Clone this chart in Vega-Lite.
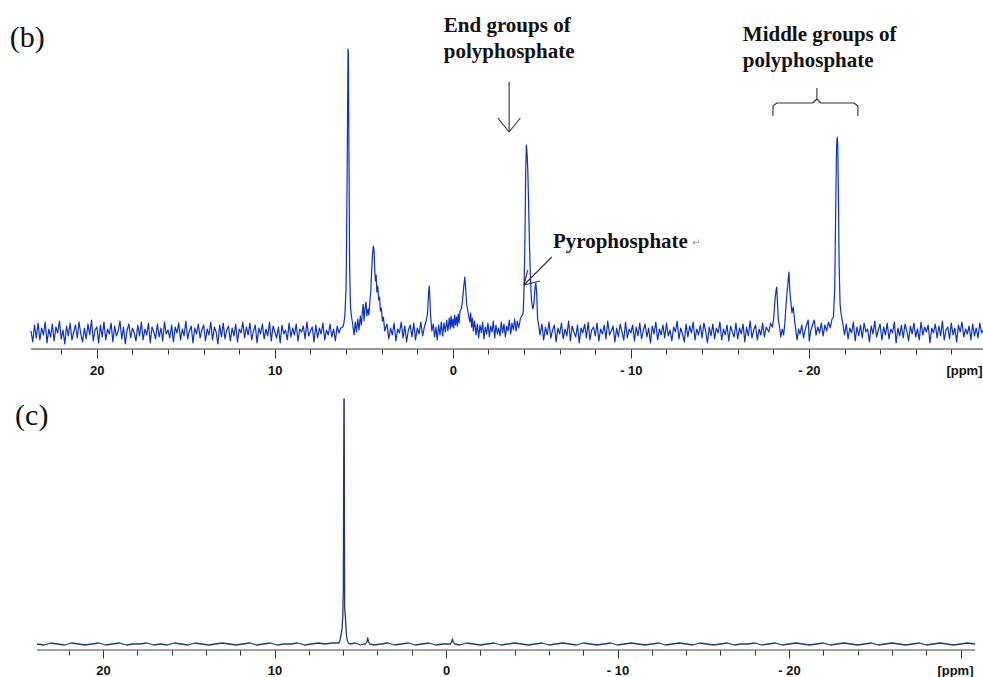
{
  "$schema": "https://vega.github.io/schema/vega-lite/v6.json",
  "padding": 0,
  "background": "white",
  "spacing": 43,
  "bounds": "flush",
  "config": {"view": {"stroke": null}},
  "datasets": {
    "specB": [
      {"ppm":23.7,"int":18},{"ppm":23.6,"int":7},{"ppm":23.5,"int":24},{"ppm":23.4,"int":11},{"ppm":23.3,"int":26},{"ppm":23.2,"int":9},{"ppm":23.1,"int":21},{"ppm":23.0,"int":14},{"ppm":22.9,"int":27},{"ppm":22.8,"int":6},
      {"ppm":22.7,"int":20},{"ppm":22.6,"int":12},{"ppm":22.5,"int":25},{"ppm":22.4,"int":8},{"ppm":22.3,"int":22},{"ppm":22.2,"int":16},{"ppm":22.1,"int":28},{"ppm":22.0,"int":10},{"ppm":21.9,"int":19},{"ppm":21.8,"int":5},
      {"ppm":21.7,"int":23},{"ppm":21.6,"int":13},{"ppm":21.5,"int":26},{"ppm":21.4,"int":9},{"ppm":21.3,"int":17},{"ppm":21.2,"int":24},{"ppm":21.1,"int":11},{"ppm":21.0,"int":27},{"ppm":20.9,"int":15},{"ppm":20.8,"int":7},
      {"ppm":20.7,"int":21},{"ppm":20.6,"int":10},{"ppm":20.5,"int":25},{"ppm":20.4,"int":14},{"ppm":20.3,"int":29},{"ppm":20.2,"int":8},{"ppm":20.1,"int":19},{"ppm":20.0,"int":22},{"ppm":19.9,"int":6},{"ppm":19.8,"int":24},
      {"ppm":19.7,"int":12},{"ppm":19.6,"int":27},{"ppm":19.5,"int":9},{"ppm":19.4,"int":20},{"ppm":19.3,"int":15},{"ppm":19.2,"int":26},{"ppm":19.1,"int":7},{"ppm":19.0,"int":23},{"ppm":18.9,"int":13},{"ppm":18.8,"int":18},
      {"ppm":18.7,"int":28},{"ppm":18.6,"int":10},{"ppm":18.5,"int":22},{"ppm":18.4,"int":5},{"ppm":18.3,"int":19},{"ppm":18.2,"int":25},{"ppm":18.1,"int":11},{"ppm":18.0,"int":21},{"ppm":17.9,"int":16},{"ppm":17.8,"int":8},
      {"ppm":17.7,"int":24},{"ppm":17.6,"int":13},{"ppm":17.5,"int":27},{"ppm":17.4,"int":9},{"ppm":17.3,"int":20},{"ppm":17.2,"int":14},{"ppm":17.1,"int":26},{"ppm":17.0,"int":6},{"ppm":16.9,"int":22},{"ppm":16.8,"int":17},
      {"ppm":16.7,"int":10},{"ppm":16.6,"int":25},{"ppm":16.5,"int":12},{"ppm":16.4,"int":21},{"ppm":16.3,"int":8},{"ppm":16.2,"int":27},{"ppm":16.1,"int":15},{"ppm":16.0,"int":19},{"ppm":15.9,"int":11},{"ppm":15.8,"int":24},
      {"ppm":15.7,"int":7},{"ppm":15.6,"int":22},{"ppm":15.5,"int":16},{"ppm":15.4,"int":26},{"ppm":15.3,"int":9},{"ppm":15.2,"int":20},{"ppm":15.1,"int":13},{"ppm":15.0,"int":28},{"ppm":14.9,"int":10},{"ppm":14.8,"int":18},
      {"ppm":14.7,"int":23},{"ppm":14.6,"int":6},{"ppm":14.5,"int":21},{"ppm":14.4,"int":15},{"ppm":14.3,"int":25},{"ppm":14.2,"int":11},{"ppm":14.1,"int":19},{"ppm":14.0,"int":24},{"ppm":13.9,"int":8},{"ppm":13.8,"int":20},
      {"ppm":13.7,"int":14},{"ppm":13.6,"int":27},{"ppm":13.5,"int":9},{"ppm":13.4,"int":22},{"ppm":13.3,"int":17},{"ppm":13.2,"int":5},{"ppm":13.1,"int":24},{"ppm":13.0,"int":12},{"ppm":12.9,"int":26},{"ppm":12.8,"int":10},
      {"ppm":12.7,"int":19},{"ppm":12.6,"int":23},{"ppm":12.5,"int":8},{"ppm":12.4,"int":21},{"ppm":12.3,"int":13},{"ppm":12.2,"int":25},{"ppm":12.1,"int":7},{"ppm":12.0,"int":20},{"ppm":11.9,"int":16},{"ppm":11.8,"int":27},
      {"ppm":11.7,"int":11},{"ppm":11.6,"int":22},{"ppm":11.5,"int":14},{"ppm":11.4,"int":26},{"ppm":11.3,"int":9},{"ppm":11.2,"int":18},{"ppm":11.1,"int":24},{"ppm":11.0,"int":6},{"ppm":10.9,"int":21},{"ppm":10.8,"int":15},
      {"ppm":10.7,"int":25},{"ppm":10.6,"int":10},{"ppm":10.5,"int":20},{"ppm":10.4,"int":13},{"ppm":10.3,"int":27},{"ppm":10.2,"int":8},{"ppm":10.1,"int":23},{"ppm":10.0,"int":17},{"ppm":9.9,"int":11},{"ppm":9.8,"int":22},
      {"ppm":9.7,"int":6},{"ppm":9.6,"int":24},{"ppm":9.5,"int":15},{"ppm":9.4,"int":19},{"ppm":9.3,"int":9},{"ppm":9.2,"int":26},{"ppm":9.1,"int":12},{"ppm":9.0,"int":21},{"ppm":8.9,"int":14},{"ppm":8.8,"int":25},
      {"ppm":8.7,"int":8},{"ppm":8.6,"int":20},{"ppm":8.5,"int":17},{"ppm":8.4,"int":23},{"ppm":8.3,"int":10},{"ppm":8.2,"int":27},{"ppm":8.1,"int":13},{"ppm":8.0,"int":18},{"ppm":7.9,"int":22},{"ppm":7.8,"int":7},
      {"ppm":7.7,"int":24},{"ppm":7.6,"int":11},{"ppm":7.5,"int":21},{"ppm":7.4,"int":15},{"ppm":7.3,"int":26},{"ppm":7.2,"int":9},{"ppm":7.1,"int":19},{"ppm":7.0,"int":14},{"ppm":6.9,"int":25},{"ppm":6.8,"int":12},
      {"ppm":6.7,"int":20},{"ppm":6.6,"int":8},{"ppm":6.5,"int":23},{"ppm":6.4,"int":16},{"ppm":6.3,"int":21},
      {"ppm":6.18,"int":22},{"ppm":6.12,"int":26},{"ppm":6.07,"int":33},{"ppm":6.0,"int":60},{"ppm":5.97,"int":107},{"ppm":5.93,"int":200},{"ppm":5.89,"int":300},{"ppm":5.87,"int":296},{"ppm":5.84,"int":200},{"ppm":5.82,"int":147},{"ppm":5.8,"int":82},{"ppm":5.75,"int":42},{"ppm":5.69,"int":32},{"ppm":5.62,"int":24},{"ppm":5.55,"int":14},{"ppm":5.48,"int":27},{"ppm":5.41,"int":17},{"ppm":5.34,"int":30},{"ppm":5.27,"int":19},{"ppm":5.2,"int":33},{"ppm":5.14,"int":24},{"ppm":5.08,"int":38},{"ppm":5.04,"int":45},{"ppm":4.99,"int":28},{"ppm":4.94,"int":40},{"ppm":4.88,"int":47},{"ppm":4.83,"int":33},{"ppm":4.77,"int":40},{"ppm":4.72,"int":34},{"ppm":4.66,"int":48},{"ppm":4.61,"int":58},{"ppm":4.56,"int":80},{"ppm":4.51,"int":95},{"ppm":4.47,"int":103},{"ppm":4.43,"int":99},{"ppm":4.39,"int":80},{"ppm":4.35,"int":68},{"ppm":4.31,"int":74},{"ppm":4.27,"int":57},{"ppm":4.22,"int":63},{"ppm":4.17,"int":49},{"ppm":4.12,"int":52},{"ppm":4.07,"int":38},{"ppm":4.02,"int":41},{"ppm":3.96,"int":28},{"ppm":3.9,"int":32},{"ppm":3.83,"int":18},
      {"ppm":3.7,"int":25},{"ppm":3.6,"int":10},{"ppm":3.5,"int":21},{"ppm":3.4,"int":14},{"ppm":3.3,"int":26},{"ppm":3.2,"int":8},{"ppm":3.1,"int":20},{"ppm":3.0,"int":16},{"ppm":2.9,"int":27},{"ppm":2.8,"int":11},{"ppm":2.7,"int":23},{"ppm":2.6,"int":7},{"ppm":2.5,"int":19},{"ppm":2.4,"int":24},{"ppm":2.3,"int":12},{"ppm":2.2,"int":26},{"ppm":2.1,"int":9},{"ppm":2.0,"int":21},{"ppm":1.9,"int":15},{"ppm":1.8,"int":27},{"ppm":1.7,"int":13},{"ppm":1.6,"int":22},
      {"ppm":1.5,"int":28},{"ppm":1.42,"int":36},{"ppm":1.37,"int":55},{"ppm":1.33,"int":63},{"ppm":1.29,"int":50},{"ppm":1.25,"int":33},{"ppm":1.18,"int":18},{"ppm":1.1,"int":25},{"ppm":1.03,"int":12},{"ppm":0.95,"int":22},{"ppm":0.88,"int":9},{"ppm":0.8,"int":24},{"ppm":0.72,"int":14},{"ppm":0.65,"int":27},{"ppm":0.57,"int":13},{"ppm":0.5,"int":26},{"ppm":0.42,"int":17},{"ppm":0.35,"int":29},{"ppm":0.28,"int":18},{"ppm":0.2,"int":31},{"ppm":0.15,"int":20},{"ppm":0.1,"int":33},{"ppm":0.05,"int":22},{"ppm":0.0,"int":30},{"ppm":-0.05,"int":21},{"ppm":-0.1,"int":34},{"ppm":-0.15,"int":24},{"ppm":-0.2,"int":32},{"ppm":-0.25,"int":23},{"ppm":-0.3,"int":35},{"ppm":-0.35,"int":26},{"ppm":-0.4,"int":38},
      {"ppm":-0.48,"int":40},{"ppm":-0.55,"int":50},{"ppm":-0.62,"int":64},{"ppm":-0.67,"int":72},{"ppm":-0.72,"int":60},{"ppm":-0.78,"int":44},{"ppm":-0.86,"int":36},
      {"ppm":-0.95,"int":27},{"ppm":-1.0,"int":36},{"ppm":-1.05,"int":22},{"ppm":-1.1,"int":31},{"ppm":-1.15,"int":18},{"ppm":-1.22,"int":28},{"ppm":-1.3,"int":14},{"ppm":-1.37,"int":25},{"ppm":-1.45,"int":11},{"ppm":-1.52,"int":24},{"ppm":-1.6,"int":16},{"ppm":-1.67,"int":27},{"ppm":-1.75,"int":10},{"ppm":-1.82,"int":22},{"ppm":-1.9,"int":15},{"ppm":-1.97,"int":26},{"ppm":-2.05,"int":12},{"ppm":-2.12,"int":23},{"ppm":-2.2,"int":17},{"ppm":-2.27,"int":28},{"ppm":-2.35,"int":11},{"ppm":-2.42,"int":24},{"ppm":-2.5,"int":15},{"ppm":-2.57,"int":21},{"ppm":-2.65,"int":13},{"ppm":-2.72,"int":27},{"ppm":-2.8,"int":16},{"ppm":-2.87,"int":25},{"ppm":-2.95,"int":12},{"ppm":-3.02,"int":23},{"ppm":-3.1,"int":18},{"ppm":-3.17,"int":29},{"ppm":-3.25,"int":15},{"ppm":-3.32,"int":26},{"ppm":-3.4,"int":19},{"ppm":-3.47,"int":30},{"ppm":-3.55,"int":18},{"ppm":-3.62,"int":28},{"ppm":-3.7,"int":21},{"ppm":-3.8,"int":31},
      {"ppm":-3.88,"int":33},{"ppm":-3.95,"int":36},{"ppm":-4.0,"int":62},{"ppm":-4.05,"int":110},{"ppm":-4.09,"int":175},{"ppm":-4.13,"int":204},{"ppm":-4.17,"int":195},{"ppm":-4.21,"int":179},{"ppm":-4.26,"int":140},{"ppm":-4.31,"int":100},{"ppm":-4.36,"int":69},{"ppm":-4.42,"int":48},{"ppm":-4.49,"int":40},{"ppm":-4.55,"int":45},{"ppm":-4.61,"int":60},{"ppm":-4.66,"int":66},{"ppm":-4.71,"int":55},{"ppm":-4.76,"int":30},{"ppm":-4.82,"int":24},{"ppm":-4.9,"int":14},
      {"ppm":-5.0,"int":25},{"ppm":-5.1,"int":9},{"ppm":-5.2,"int":22},{"ppm":-5.3,"int":14},{"ppm":-5.4,"int":27},{"ppm":-5.5,"int":11},{"ppm":-5.6,"int":19},{"ppm":-5.7,"int":24},{"ppm":-5.8,"int":7},{"ppm":-5.9,"int":21},
      {"ppm":-6.0,"int":15},{"ppm":-6.1,"int":26},{"ppm":-6.2,"int":10},{"ppm":-6.3,"int":20},{"ppm":-6.4,"int":13},{"ppm":-6.5,"int":28},{"ppm":-6.6,"int":8},{"ppm":-6.7,"int":23},{"ppm":-6.8,"int":17},{"ppm":-6.9,"int":12},
      {"ppm":-7.0,"int":24},{"ppm":-7.1,"int":6},{"ppm":-7.2,"int":21},{"ppm":-7.3,"int":16},{"ppm":-7.4,"int":25},{"ppm":-7.5,"int":11},{"ppm":-7.6,"int":27},{"ppm":-7.7,"int":9},{"ppm":-7.8,"int":19},{"ppm":-7.9,"int":22},
      {"ppm":-8.0,"int":13},{"ppm":-8.1,"int":26},{"ppm":-8.2,"int":8},{"ppm":-8.3,"int":20},{"ppm":-8.4,"int":15},{"ppm":-8.5,"int":24},{"ppm":-8.6,"int":10},{"ppm":-8.7,"int":28},{"ppm":-8.8,"int":14},{"ppm":-8.9,"int":18},
      {"ppm":-9.0,"int":23},{"ppm":-9.1,"int":7},{"ppm":-9.2,"int":21},{"ppm":-9.3,"int":12},{"ppm":-9.4,"int":25},{"ppm":-9.5,"int":17},{"ppm":-9.6,"int":9},{"ppm":-9.7,"int":27},{"ppm":-9.8,"int":11},{"ppm":-9.9,"int":20},
      {"ppm":-10.0,"int":16},{"ppm":-10.1,"int":24},{"ppm":-10.2,"int":8},{"ppm":-10.3,"int":22},{"ppm":-10.4,"int":13},{"ppm":-10.5,"int":26},{"ppm":-10.6,"int":10},{"ppm":-10.7,"int":19},{"ppm":-10.8,"int":25},{"ppm":-10.9,"int":12},
      {"ppm":-11.0,"int":21},{"ppm":-11.1,"int":6},{"ppm":-11.2,"int":23},{"ppm":-11.3,"int":15},{"ppm":-11.4,"int":27},{"ppm":-11.5,"int":9},{"ppm":-11.6,"int":20},{"ppm":-11.7,"int":14},{"ppm":-11.8,"int":24},{"ppm":-11.9,"int":11},
      {"ppm":-12.0,"int":26},{"ppm":-12.1,"int":13},{"ppm":-12.2,"int":19},{"ppm":-12.3,"int":8},{"ppm":-12.4,"int":22},{"ppm":-12.5,"int":17},{"ppm":-12.6,"int":28},{"ppm":-12.7,"int":10},{"ppm":-12.8,"int":21},{"ppm":-12.9,"int":15},
      {"ppm":-13.0,"int":7},{"ppm":-13.1,"int":25},{"ppm":-13.2,"int":12},{"ppm":-13.3,"int":23},{"ppm":-13.4,"int":16},{"ppm":-13.5,"int":27},{"ppm":-13.6,"int":9},{"ppm":-13.7,"int":20},{"ppm":-13.8,"int":14},{"ppm":-13.9,"int":24},
      {"ppm":-14.0,"int":11},{"ppm":-14.1,"int":26},{"ppm":-14.2,"int":18},{"ppm":-14.3,"int":6},{"ppm":-14.4,"int":22},{"ppm":-14.5,"int":13},{"ppm":-14.6,"int":25},{"ppm":-14.7,"int":10},{"ppm":-14.8,"int":21},{"ppm":-14.9,"int":16},
      {"ppm":-15.0,"int":27},{"ppm":-15.1,"int":9},{"ppm":-15.2,"int":20},{"ppm":-15.3,"int":14},{"ppm":-15.4,"int":24},{"ppm":-15.5,"int":8},{"ppm":-15.6,"int":23},{"ppm":-15.7,"int":17},{"ppm":-15.8,"int":12},{"ppm":-15.9,"int":26},
      {"ppm":-16.0,"int":10},{"ppm":-16.1,"int":21},{"ppm":-16.2,"int":15},{"ppm":-16.3,"int":25},{"ppm":-16.4,"int":7},{"ppm":-16.5,"int":22},{"ppm":-16.6,"int":13},{"ppm":-16.7,"int":28},{"ppm":-16.8,"int":11},{"ppm":-16.9,"int":19},
      {"ppm":-17.0,"int":24},{"ppm":-17.1,"int":9},{"ppm":-17.2,"int":20},{"ppm":-17.3,"int":14},{"ppm":-17.4,"int":26},{"ppm":-17.5,"int":12},{"ppm":-17.6,"int":22},
      {"ppm":-17.75,"int":17},{"ppm":-17.85,"int":26},{"ppm":-17.95,"int":22},{"ppm":-18.02,"int":30},{"ppm":-18.1,"int":50},{"ppm":-18.15,"int":58},{"ppm":-18.19,"int":62},{"ppm":-18.23,"int":48},{"ppm":-18.28,"int":30},{"ppm":-18.35,"int":22},{"ppm":-18.42,"int":12},{"ppm":-18.5,"int":20},{"ppm":-18.58,"int":14},{"ppm":-18.65,"int":26},{"ppm":-18.72,"int":45},{"ppm":-18.78,"int":58},{"ppm":-18.84,"int":70},{"ppm":-18.88,"int":77},{"ppm":-18.93,"int":58},{"ppm":-18.98,"int":48},{"ppm":-19.05,"int":36},{"ppm":-19.12,"int":42},{"ppm":-19.2,"int":28},{"ppm":-19.27,"int":18},{"ppm":-19.34,"int":9},{"ppm":-19.42,"int":20},{"ppm":-19.5,"int":15},{"ppm":-19.6,"int":24},{"ppm":-19.7,"int":11},{"ppm":-19.8,"int":20},{"ppm":-19.9,"int":26},{"ppm":-19.96,"int":29},{"ppm":-20.02,"int":8},{"ppm":-20.1,"int":18},{"ppm":-20.2,"int":24},{"ppm":-20.3,"int":29},{"ppm":-20.4,"int":14},{"ppm":-20.5,"int":22},{"ppm":-20.6,"int":16},{"ppm":-20.7,"int":26},{"ppm":-20.8,"int":13},{"ppm":-20.9,"int":24},{"ppm":-21.0,"int":18},{"ppm":-21.1,"int":27},{"ppm":-21.2,"int":21},{"ppm":-21.3,"int":30},{"ppm":-21.38,"int":32},{"ppm":-21.45,"int":60},{"ppm":-21.5,"int":131},{"ppm":-21.55,"int":200},{"ppm":-21.59,"int":212},{"ppm":-21.62,"int":205},{"ppm":-21.66,"int":149},{"ppm":-21.7,"int":82},{"ppm":-21.75,"int":45},{"ppm":-21.8,"int":36},{"ppm":-21.88,"int":28},{"ppm":-21.95,"int":20},
      {"ppm":-22.0,"int":14},{"ppm":-22.1,"int":25},{"ppm":-22.2,"int":10},{"ppm":-22.3,"int":21},{"ppm":-22.4,"int":16},{"ppm":-22.5,"int":27},{"ppm":-22.6,"int":8},{"ppm":-22.7,"int":22},{"ppm":-22.8,"int":13},{"ppm":-22.9,"int":24},
      {"ppm":-23.0,"int":11},{"ppm":-23.1,"int":26},{"ppm":-23.2,"int":17},{"ppm":-23.3,"int":20},{"ppm":-23.4,"int":7},{"ppm":-23.5,"int":23},{"ppm":-23.6,"int":15},{"ppm":-23.7,"int":28},{"ppm":-23.8,"int":12},{"ppm":-23.9,"int":19},
      {"ppm":-24.0,"int":25},{"ppm":-24.1,"int":9},{"ppm":-24.2,"int":22},{"ppm":-24.3,"int":14},{"ppm":-24.4,"int":26},{"ppm":-24.5,"int":10},{"ppm":-24.6,"int":20},{"ppm":-24.7,"int":16},{"ppm":-24.8,"int":27},{"ppm":-24.9,"int":6},
      {"ppm":-25.0,"int":21},{"ppm":-25.1,"int":13},{"ppm":-25.2,"int":24},{"ppm":-25.3,"int":11},{"ppm":-25.4,"int":25},{"ppm":-25.5,"int":18},{"ppm":-25.6,"int":8},{"ppm":-25.7,"int":23},{"ppm":-25.8,"int":15},{"ppm":-25.9,"int":26},
      {"ppm":-26.0,"int":12},{"ppm":-26.1,"int":20},{"ppm":-26.2,"int":9},{"ppm":-26.3,"int":27},{"ppm":-26.4,"int":14},{"ppm":-26.5,"int":22},{"ppm":-26.6,"int":17},{"ppm":-26.7,"int":24},{"ppm":-26.8,"int":6},{"ppm":-26.9,"int":21},
      {"ppm":-27.0,"int":16},{"ppm":-27.1,"int":25},{"ppm":-27.2,"int":11},{"ppm":-27.3,"int":23},{"ppm":-27.4,"int":13},{"ppm":-27.5,"int":28},{"ppm":-27.6,"int":9},{"ppm":-27.7,"int":19},{"ppm":-27.8,"int":22},{"ppm":-27.9,"int":10},
      {"ppm":-28.0,"int":26},{"ppm":-28.1,"int":14},{"ppm":-28.2,"int":21},{"ppm":-28.3,"int":7},{"ppm":-28.4,"int":24},{"ppm":-28.5,"int":17},{"ppm":-28.6,"int":27},{"ppm":-28.7,"int":12},{"ppm":-28.8,"int":20},{"ppm":-28.9,"int":15},
      {"ppm":-29.0,"int":23},{"ppm":-29.1,"int":9},{"ppm":-29.2,"int":25},{"ppm":-29.3,"int":13},{"ppm":-29.4,"int":21},{"ppm":-29.5,"int":11},{"ppm":-29.6,"int":26},{"ppm":-29.7,"int":16},{"ppm":-29.78,"int":19}
    ],
    "segB": [
      {"ppm":23.7,"int":0,"ppm2":-29.78,"int2":0},
      {"ppm":-3.16,"int":267,"ppm2":-3.16,"int2":217},
      {"ppm":-2.53,"int":231,"ppm2":-3.16,"int2":217},
      {"ppm":-3.79,"int":231,"ppm2":-3.16,"int2":217},
      {"ppm":-5.56,"int":92,"ppm2":-3.99,"int2":64},
      {"ppm":-4.89,"int":68,"ppm2":-3.99,"int2":64},
      {"ppm":-4.21,"int":79,"ppm2":-3.99,"int2":64},
      {"ppm":-17.98,"int":233,"ppm2":-17.98,"int2":243},
      {"ppm":-17.98,"int":243,"ppm2":-18.2,"int2":246},
      {"ppm":-18.2,"int":246,"ppm2":-20.22,"int2":246},
      {"ppm":-20.22,"int":246,"ppm2":-20.45,"int2":250},
      {"ppm":-20.45,"int":250,"ppm2":-20.45,"int2":261},
      {"ppm":-20.45,"int":250,"ppm2":-20.67,"int2":246},
      {"ppm":-20.67,"int":246,"ppm2":-22.53,"int2":246},
      {"ppm":-22.53,"int":246,"ppm2":-22.75,"int2":243},
      {"ppm":-22.75,"int":243,"ppm2":-22.75,"int2":233}
    ],
    "labB": [
      {"ppm":0.51,"int":317,"label":"End groups of"},
      {"ppm":0.51,"int":291,"label":"polyphosphate"},
      {"ppm":-16.29,"int":308,"label":"Middle groups of"},
      {"ppm":-16.29,"int":282,"label":"polyphosphate"},
      {"ppm":-5.62,"int":101,"label":"Pyrophosphate"}
    ],
    "specC": [
      {"ppm":23.85,"int":6},{"ppm":23.45,"int":5},{"ppm":23.05,"int":7},{"ppm":22.65,"int":6},{"ppm":22.25,"int":5},{"ppm":21.85,"int":7},{"ppm":21.45,"int":6},{"ppm":21.05,"int":5},{"ppm":20.65,"int":6},{"ppm":20.25,"int":7},{"ppm":19.85,"int":5},{"ppm":19.45,"int":6},{"ppm":19.05,"int":7},{"ppm":18.65,"int":5},{"ppm":18.25,"int":6},{"ppm":17.85,"int":6},{"ppm":17.45,"int":7},{"ppm":17.05,"int":5},{"ppm":16.65,"int":6},{"ppm":16.25,"int":5},{"ppm":15.85,"int":7},{"ppm":15.45,"int":6},{"ppm":15.05,"int":5},{"ppm":14.65,"int":7},{"ppm":14.25,"int":6},{"ppm":13.85,"int":5},{"ppm":13.45,"int":6},{"ppm":13.05,"int":7},{"ppm":12.65,"int":6},{"ppm":12.25,"int":5},{"ppm":11.85,"int":6},{"ppm":11.45,"int":7},{"ppm":11.05,"int":5},{"ppm":10.65,"int":6},{"ppm":10.25,"int":7},{"ppm":9.85,"int":5},{"ppm":9.45,"int":6},{"ppm":9.05,"int":6},{"ppm":8.65,"int":7},{"ppm":8.25,"int":5},{"ppm":7.85,"int":6},{"ppm":7.45,"int":7},{"ppm":7.05,"int":6},{"ppm":6.65,"int":7},{"ppm":6.4,"int":7},
      {"ppm":6.25,"int":7},{"ppm":6.18,"int":10},{"ppm":6.12,"int":15},{"ppm":6.06,"int":22},{"ppm":6.02,"int":34},{"ppm":5.99,"int":60},{"ppm":5.97,"int":180},{"ppm":5.955,"int":251},{"ppm":5.94,"int":251},{"ppm":5.925,"int":150},{"ppm":5.91,"int":40},{"ppm":5.88,"int":36},{"ppm":5.84,"int":24},{"ppm":5.8,"int":14},{"ppm":5.75,"int":9},{"ppm":5.68,"int":7},
      {"ppm":5.6,"int":6},{"ppm":5.3,"int":7},{"ppm":5.0,"int":5},{"ppm":4.8,"int":6},{"ppm":4.7,"int":6},{"ppm":4.62,"int":8},{"ppm":4.57,"int":12},{"ppm":4.52,"int":8},{"ppm":4.45,"int":6},{"ppm":4.2,"int":5},{"ppm":3.8,"int":6},{"ppm":3.4,"int":7},{"ppm":3.0,"int":5},{"ppm":2.6,"int":6},{"ppm":2.2,"int":7},{"ppm":1.8,"int":5},{"ppm":1.4,"int":6},{"ppm":1.0,"int":7},{"ppm":0.6,"int":5},{"ppm":0.2,"int":6},{"ppm":-0.1,"int":6},{"ppm":-0.25,"int":6},{"ppm":-0.32,"int":8},{"ppm":-0.37,"int":11},{"ppm":-0.42,"int":8},{"ppm":-0.5,"int":6},{"ppm":-0.8,"int":5},{"ppm":-1.2,"int":7},{"ppm":-1.6,"int":6},{"ppm":-2.0,"int":5},{"ppm":-2.4,"int":6},{"ppm":-2.8,"int":7},{"ppm":-3.2,"int":5},{"ppm":-3.6,"int":6},{"ppm":-4.0,"int":7},{"ppm":-4.4,"int":6},{"ppm":-4.8,"int":5},{"ppm":-5.2,"int":6},{"ppm":-5.6,"int":7},{"ppm":-6.0,"int":5},{"ppm":-6.4,"int":6},{"ppm":-6.8,"int":7},{"ppm":-7.2,"int":6},{"ppm":-7.6,"int":5},{"ppm":-8.0,"int":7},{"ppm":-8.4,"int":6},{"ppm":-8.8,"int":5},{"ppm":-9.2,"int":6},{"ppm":-9.6,"int":7},{"ppm":-10.0,"int":5},{"ppm":-10.4,"int":6},{"ppm":-10.8,"int":7},{"ppm":-11.2,"int":6},{"ppm":-11.6,"int":5},{"ppm":-12.0,"int":6},{"ppm":-12.4,"int":7},{"ppm":-12.8,"int":5},{"ppm":-13.2,"int":6},{"ppm":-13.6,"int":7},{"ppm":-14.0,"int":6},{"ppm":-14.4,"int":5},{"ppm":-14.8,"int":7},{"ppm":-15.2,"int":6},{"ppm":-15.6,"int":5},{"ppm":-16.0,"int":6},{"ppm":-16.4,"int":7},{"ppm":-16.8,"int":5},{"ppm":-17.2,"int":6},{"ppm":-17.6,"int":6},{"ppm":-18.0,"int":7},{"ppm":-18.4,"int":5},{"ppm":-18.8,"int":6},{"ppm":-19.2,"int":7},{"ppm":-19.6,"int":5},{"ppm":-20.0,"int":6},{"ppm":-20.4,"int":7},{"ppm":-20.8,"int":6},{"ppm":-21.2,"int":5},{"ppm":-21.6,"int":6},{"ppm":-22.0,"int":7},{"ppm":-22.4,"int":5},{"ppm":-22.8,"int":6},{"ppm":-23.2,"int":7},{"ppm":-23.6,"int":6},{"ppm":-24.0,"int":5},{"ppm":-24.4,"int":6},{"ppm":-24.8,"int":7},{"ppm":-25.2,"int":5},{"ppm":-25.6,"int":6},{"ppm":-26.0,"int":7},{"ppm":-26.4,"int":6},{"ppm":-26.8,"int":5},{"ppm":-27.2,"int":6},{"ppm":-27.6,"int":7},{"ppm":-28.0,"int":5},{"ppm":-28.4,"int":6},{"ppm":-28.8,"int":7},{"ppm":-29.2,"int":6},{"ppm":-29.6,"int":5},{"ppm":-30.0,"int":6},{"ppm":-30.4,"int":7},{"ppm":-30.85,"int":6}
    ],
    "segC": [
      {"ppm":23.85,"int":0,"ppm2":-30.85,"int2":0}
    ]
  },
  "vconcat": [
    {
      "width": 983,
      "height": 349,
      "encoding": {
        "x": {
          "field": "ppm", "type": "quantitative",
          "scale": {"domain": [-29.78, 25.44], "reverse": true, "nice": false, "zero": false},
          "axis": {
            "values": [22,20,18,16,14,12,10,8,6,4,2,0,-2,-4,-6,-8,-10,-12,-14,-16,-18,-20,-22,-24,-26,-28],
            "domain": false, "grid": false,
            "tickColor": "#333", "tickWidth": 1,
            "tickSize": {"condition": {"test": "datum.value % 10 === 0", "value": 9}, "value": 5},
            "labelExpr": "(datum.value % 10 !== 0 || datum.value < -25) ? '' : (datum.value < 0 ? '- ' + abs(datum.value) : datum.label)",
            "labelFont": "Liberation Sans", "labelFontSize": 13, "labelFontWeight": "bold", "labelColor": "#111",
            "labelPadding": 6, "labelFlush": false, "labelOverlap": false,
            "title": "[ppm]", "titleFont": "Liberation Sans", "titleFontSize": 13, "titleFontWeight": "bold", "titleColor": "#111",
            "titleAlign": "right", "titleBaseline": "top", "titleX": 982, "titleY": 15, "titleAngle": 0
          }
        },
        "y": {"field": "int", "type": "quantitative", "scale": {"domain": [0, 349], "nice": false, "zero": false}, "axis": null}
      },
      "layer": [
        {"data": {"name": "specB"}, "mark": {"type": "line", "color": "#0a30c8", "strokeWidth": 1.2, "strokeJoin": "round"}},
        {"data": {"name": "segB"}, "mark": {"type": "rule", "color": "#333333", "strokeWidth": 1.1}, "encoding": {"x2": {"field": "ppm2"}, "y2": {"field": "int2"}}},
        {"data": {"name": "labB"}, "mark": {"type": "text", "font": "Liberation Serif", "fontSize": 21, "fontWeight": "bold", "align": "left", "baseline": "alphabetic", "color": "#111111"}, "encoding": {"text": {"field": "label"}}},
        {"data": {"values": [{"ppm": -13.43, "int": 103, "label": "↵"}]}, "mark": {"type": "text", "font": "DejaVu Sans", "fontSize": 10, "align": "left", "baseline": "alphabetic", "color": "#999999"}, "encoding": {"text": {"field": "label"}}},
        {"data": {"values": [{"ppm": 24.89, "int": 302, "label": "(b)"}]}, "mark": {"type": "text", "font": "Liberation Serif", "fontSize": 30, "align": "left", "baseline": "alphabetic", "color": "#111111"}, "encoding": {"text": {"field": "label"}}}
      ]
    },
    {
      "width": 983,
      "height": 258,
      "encoding": {
        "x": {
          "field": "ppm", "type": "quantitative",
          "scale": {"domain": [-31.31, 26.01], "reverse": true, "nice": false, "zero": false},
          "axis": {
            "values": [22,20,18,16,14,12,10,8,6,4,2,0,-2,-4,-6,-8,-10,-12,-14,-16,-18,-20,-22,-24,-26,-28,-30],
            "domain": false, "grid": false,
            "tickColor": "#333", "tickWidth": 1,
            "tickSize": {"condition": {"test": "datum.value % 10 === 0", "value": 8}, "value": 5},
            "labelExpr": "(datum.value % 10 !== 0 || datum.value < -25) ? '' : (datum.value < 0 ? '- ' + abs(datum.value) : datum.label)",
            "labelFont": "Liberation Sans", "labelFontSize": 13, "labelFontWeight": "bold", "labelColor": "#111",
            "labelPadding": 6, "labelFlush": false, "labelOverlap": false,
            "title": "[ppm]", "titleFont": "Liberation Sans", "titleFontSize": 13, "titleFontWeight": "bold", "titleColor": "#111",
            "titleAlign": "right", "titleBaseline": "top", "titleX": 973, "titleY": 14, "titleAngle": 0
          }
        },
        "y": {"field": "int", "type": "quantitative", "scale": {"domain": [0, 258], "nice": false, "zero": false}, "axis": null}
      },
      "layer": [
        {"data": {"name": "specC"}, "mark": {"type": "line", "color": "#26396b", "strokeWidth": 1.3, "strokeJoin": "round"}},
        {"data": {"name": "segC"}, "mark": {"type": "rule", "color": "#444444", "strokeWidth": 1.1}, "encoding": {"x2": {"field": "ppm2"}, "y2": {"field": "int2"}}},
        {"data": {"values": [{"ppm": 25.13, "int": 225, "label": "(c)"}]}, "mark": {"type": "text", "font": "Liberation Serif", "fontSize": 30, "align": "left", "baseline": "alphabetic", "color": "#111111"}, "encoding": {"text": {"field": "label"}}}
      ]
    }
  ]
}
